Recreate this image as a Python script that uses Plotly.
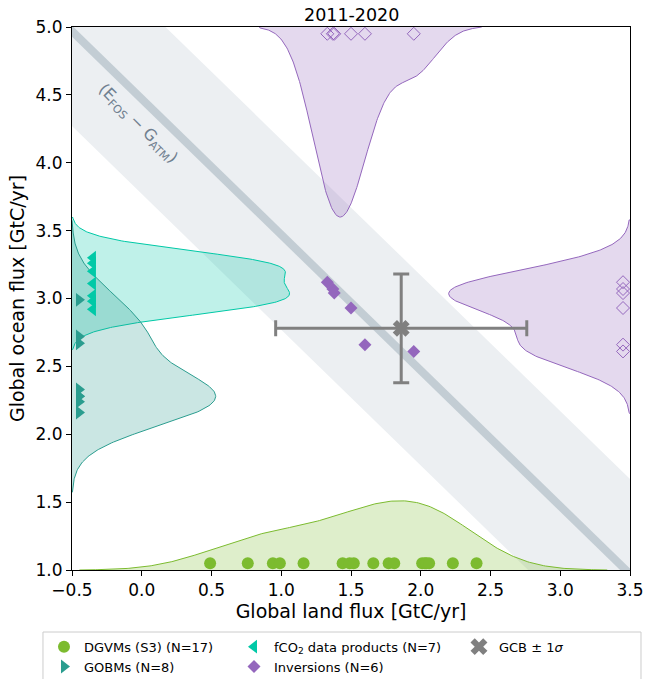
import numpy as np
import plotly.graph_objects as go

# ---------------- data ----------------
period = "2011-2020"
dgvm_land = [0.49, 0.76, 0.94, 0.99, 1.16, 1.44, 1.49, 1.52, 1.66, 1.77, 1.81,
             2.01, 2.03, 2.04, 2.06, 2.23, 2.40]
gobm_ocean = [2.99, 2.72, 2.67, 2.33, 2.28, 2.28, 2.24, 2.16]
fco2_ocean = [3.30, 3.26, 3.20, 3.11, 3.02, 2.98, 2.92]
inv_land = [1.33, 1.37, 1.38, 1.50, 1.60, 1.95]
inv_ocean = [3.12, 3.07, 3.04, 2.93, 2.66, 2.61]
gcb_land, gcb_land_sd = 1.86, 0.9
gcb_ocean, gcb_ocean_sd = 2.78, 0.4
efos_minus_gatm, efos_minus_gatm_sd = 4.47, 0.7

x_ticks = [-0.5, 0.0, 0.5, 1.0, 1.5, 2.0, 2.5, 3.0, 3.5]
y_ticks = [1.0, 1.5, 2.0, 2.5, 3.0, 3.5, 4.0, 4.5, 5.0]

# ---------------- style ----------------
FONT = "DejaVu Sans"
C_DGVM = (124, 187, 47)
C_FCO2 = (0, 201, 167)
C_GOBM = (42, 157, 143)
C_INV = (148, 103, 189)
C_GCB = "rgb(128,128,128)"
XR = (-0.5, 3.5)
YR = (1.0, 5.0)
RUG_Y_DGVM = 1.05
RUG_X_GOBM = -0.45
RUG_X_FCO2 = -0.35
RUG_Y_INV_TOP = 4.95
RUG_X_INV_RIGHT = 3.45
# peak extent of each density curve (axis units)
H_DGVM, H_FCO2, H_GOBM, H_INVT, H_INVR = 0.51, 1.56, 1.03, 1.40, 1.30


def rgb(c, a=1.0):
    return f"rgba({c[0]},{c[1]},{c[2]},{a})"


def kde(values, npts=300):
    v = np.asarray(values, float)
    n = len(v)
    bw = v.std(ddof=1) * n ** (-1 / 5)
    g = np.linspace(v.min() - 3 * bw, v.max() + 3 * bw, npts)
    d = np.exp(-0.5 * ((g[:, None] - v[None, :]) / bw) ** 2).sum(1)
    d = d / (n * bw * np.sqrt(2 * np.pi))
    return g, d / d.max()


fig = go.Figure()

# budget-constraint band and line
xa = np.array([-1.5, 5.0])
hi = efos_minus_gatm + efos_minus_gatm_sd
lo = efos_minus_gatm - efos_minus_gatm_sd
fig.add_trace(go.Scatter(
    x=[xa[0], xa[1], xa[1], xa[0], xa[0]],
    y=[hi - xa[0], hi - xa[1], lo - xa[1], lo - xa[0], hi - xa[0]],
    fill="toself", fillcolor="rgb(236,239,242)", line=dict(width=0),
    mode="lines", showlegend=False, hoverinfo="skip"))
fig.add_trace(go.Scatter(
    x=xa, y=efos_minus_gatm - xa, mode="lines",
    line=dict(color="rgb(195,205,212)", width=8),
    showlegend=False, hoverinfo="skip"))


# density curves
def side_kde(values, color, height, base, orient, sign):
    g, d = kde(values)
    s = base + sign * height * d
    if orient == "h":  # density along x, curve height in y
        xs = np.concatenate([[g[0]], g, [g[-1]]])
        ys = np.concatenate([[base], s, [base]])
    else:
        ys = np.concatenate([[g[0]], g, [g[-1]]])
        xs = np.concatenate([[base], s, [base]])
    fig.add_trace(go.Scatter(
        x=xs, y=ys, mode="lines", fill="toself",
        fillcolor=rgb(color, 0.25), line=dict(color=rgb(color), width=1),
        showlegend=False, hoverinfo="skip"))


side_kde(fco2_ocean, C_FCO2, H_FCO2, XR[0], "v", 1)
side_kde(gobm_ocean, C_GOBM, H_GOBM, XR[0], "v", 1)
side_kde(dgvm_land, C_DGVM, H_DGVM, YR[0], "h", 1)
side_kde(inv_land, C_INV, H_INVT, YR[1], "h", -1)
side_kde(inv_ocean, C_INV, H_INVR, XR[1], "v", -1)

# rug markers
fig.add_trace(go.Scatter(
    x=dgvm_land, y=[RUG_Y_DGVM] * len(dgvm_land), mode="markers",
    marker=dict(symbol="circle", size=12, color=rgb(C_DGVM)),
    name=f"DGVMs (S3) (N={len(dgvm_land)})", legend="legend"))
fig.add_trace(go.Scatter(
    x=[RUG_X_GOBM] * len(gobm_ocean), y=gobm_ocean, mode="markers",
    marker=dict(symbol="triangle-right", size=12, color=rgb(C_GOBM)),
    name=f"GOBMs (N={len(gobm_ocean)})", legend="legend"))
fig.add_trace(go.Scatter(
    x=[RUG_X_FCO2] * len(fco2_ocean), y=fco2_ocean, mode="markers",
    marker=dict(symbol="triangle-left", size=12, color=rgb(C_FCO2)),
    name=f"fCO<sub>2</sub> data products (N={len(fco2_ocean)})", legend="legend2"))
fig.add_trace(go.Scatter(
    x=inv_land, y=[RUG_Y_INV_TOP] * len(inv_land), mode="markers",
    marker=dict(symbol="diamond-open", size=10, color=rgb(C_INV), line=dict(width=1)),
    showlegend=False, hoverinfo="skip"))
fig.add_trace(go.Scatter(
    x=[RUG_X_INV_RIGHT] * len(inv_ocean), y=inv_ocean, mode="markers",
    marker=dict(symbol="diamond-open", size=10, color=rgb(C_INV), line=dict(width=1)),
    showlegend=False, hoverinfo="skip"))
fig.add_trace(go.Scatter(
    x=inv_land, y=inv_ocean, mode="markers",
    marker=dict(symbol="diamond", size=10, color=rgb(C_INV)),
    name=f"Inversions (N={len(inv_land)})", legend="legend2"))

# GCB estimate
fig.add_trace(go.Scatter(
    x=[gcb_land], y=[gcb_ocean], mode="markers",
    marker=dict(symbol="x", size=15, color=C_GCB, line=dict(width=0)),
    error_x=dict(type="constant", value=gcb_land_sd, color=C_GCB, thickness=3, width=8),
    error_y=dict(type="constant", value=gcb_ocean_sd, color=C_GCB, thickness=3, width=8),
    name="GCB ± 1<i>σ</i>", legend="legend3"))

# annotation along the constraint line
fig.add_annotation(
    x=-0.03, y=4.29, xref="x", yref="y",
    text="(E<sub>FOS</sub> − G<sub>ATM</sub>)", textangle=45, showarrow=False,
    font=dict(family=FONT, size=16, color="rgb(112,128,144)"))
fig.add_annotation(
    x=0.5, y=1.0, xref="paper", yref="paper", yanchor="bottom", yshift=0,
    text=period, showarrow=False, font=dict(family=FONT, size=17.5, color="black"))

# legend frame
fig.add_shape(type="rect", xref="paper", yref="paper",
              x0=-0.052, x1=1.0197, y0=-0.1142, y1=-0.25,
              line=dict(color="rgb(204,204,204)", width=1), fillcolor="rgba(0,0,0,0)")

leg = dict(font=dict(family=FONT, size=13, color="black"), bgcolor="rgba(0,0,0,0)",
           borderwidth=0, yanchor="top", xanchor="left", orientation="v",
           y=-0.1136, tracegroupgap=0)

axis = dict(showgrid=False, zeroline=False, showline=True, linecolor="black",
            linewidth=1, mirror=True, ticks="outside", ticklen=5, tickcolor="black",
            tickfont=dict(family=FONT, size=17, color="black"), tickformat=".1f")

fig.update_layout(
    width=666, height=679,
    margin=dict(l=72, r=36, t=27, b=109, autoexpand=False),
    paper_bgcolor="white", plot_bgcolor="white",
    font=dict(family=FONT, color="black"),
    hovermode=False,
    xaxis=dict(axis, range=list(XR), tickvals=x_ticks,
               title=dict(text="Global land flux [GtC/yr]", font=dict(family=FONT, size=19), standoff=3)),
    yaxis=dict(axis, range=list(YR), tickvals=y_ticks,
               title=dict(text="Global ocean flux [GtC/yr]", font=dict(family=FONT, size=19), standoff=5)),
    legend=dict(leg, x=-0.0502),
    legend2=dict(leg, x=0.2903),
    legend3=dict(leg, x=0.6935),
)

# remove the page's default body margin so the figure sits at the window origin
fig.write_html("out.html", config={"displayModeBar": False},
               post_script="document.body.style.margin='0px';")
